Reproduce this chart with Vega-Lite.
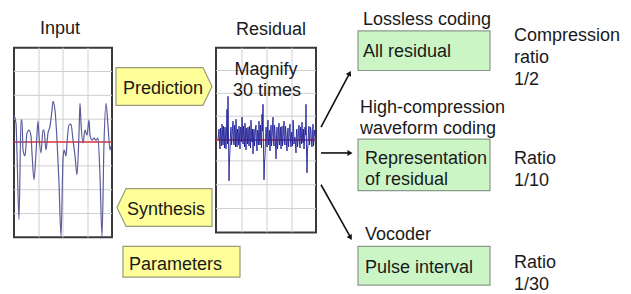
{
  "$schema": "https://vega.github.io/schema/vega-lite/v6.json",
  "width": 631,
  "height": 294,
  "padding": 0,
  "autosize": {"type": "fit", "contains": "padding"},
  "background": "white",
  "config": {"view": {"stroke": null}},
  "datasets": {
    "panels": [
      {"x": 14, "x2": 112, "y": 48, "y2": 239},
      {"x": 216, "x2": 316, "y": 48, "y2": 234}
    ],
    "grid": [
      {"x": 39, "x2": 39, "y": 48, "y2": 239},
      {"x": 63, "x2": 63, "y": 48, "y2": 239},
      {"x": 88, "x2": 88, "y": 48, "y2": 239},
      {"x": 14, "x2": 112, "y": 72, "y2": 72},
      {"x": 14, "x2": 112, "y": 96, "y2": 96},
      {"x": 14, "x2": 112, "y": 120, "y2": 120},
      {"x": 14, "x2": 112, "y": 167, "y2": 167},
      {"x": 14, "x2": 112, "y": 191, "y2": 191},
      {"x": 14, "x2": 112, "y": 215, "y2": 215},
      {"x": 242, "x2": 242, "y": 48, "y2": 234},
      {"x": 267, "x2": 267, "y": 48, "y2": 234},
      {"x": 292, "x2": 292, "y": 48, "y2": 234},
      {"x": 216, "x2": 316, "y": 71, "y2": 71},
      {"x": 216, "x2": 316, "y": 94, "y2": 94},
      {"x": 216, "x2": 316, "y": 117, "y2": 117},
      {"x": 216, "x2": 316, "y": 162, "y2": 162},
      {"x": 216, "x2": 316, "y": 186, "y2": 186},
      {"x": 216, "x2": 316, "y": 210, "y2": 210}
    ],
    "redlines": [
      {"x": 14, "x2": 112, "y": 143, "y2": 143},
      {"x": 216, "x2": 316, "y": 141, "y2": 141}
    ],
    "input": [
      {"x": 14, "y": 116}, {"x": 16, "y": 124}, {"x": 17, "y": 154}, {"x": 19, "y": 221},
      {"x": 21, "y": 121}, {"x": 22, "y": 121}, {"x": 23, "y": 151}, {"x": 25, "y": 157},
      {"x": 27, "y": 134}, {"x": 29, "y": 131}, {"x": 31, "y": 137}, {"x": 32, "y": 154},
      {"x": 34, "y": 181}, {"x": 36, "y": 154}, {"x": 38, "y": 122}, {"x": 39, "y": 137},
      {"x": 41, "y": 154}, {"x": 43, "y": 131}, {"x": 44, "y": 131}, {"x": 46, "y": 151},
      {"x": 48, "y": 134}, {"x": 50, "y": 127}, {"x": 52, "y": 111}, {"x": 53, "y": 102},
      {"x": 55, "y": 111}, {"x": 57, "y": 141}, {"x": 59, "y": 184}, {"x": 61, "y": 238},
      {"x": 63, "y": 161}, {"x": 64, "y": 151}, {"x": 66, "y": 157}, {"x": 67, "y": 144},
      {"x": 69, "y": 126}, {"x": 71, "y": 125}, {"x": 73, "y": 141}, {"x": 75, "y": 157},
      {"x": 77, "y": 176}, {"x": 79, "y": 134}, {"x": 80, "y": 104}, {"x": 81, "y": 124},
      {"x": 83, "y": 144}, {"x": 85, "y": 131}, {"x": 87, "y": 136}, {"x": 89, "y": 121},
      {"x": 90, "y": 136}, {"x": 92, "y": 141}, {"x": 94, "y": 139}, {"x": 96, "y": 141},
      {"x": 98, "y": 139}, {"x": 100, "y": 177}, {"x": 102, "y": 238}, {"x": 104, "y": 144},
      {"x": 106, "y": 104}, {"x": 108, "y": 127}, {"x": 110, "y": 151}, {"x": 111, "y": 147}
    ],
    "residual": [
      {"x": 218, "y": 141}, {"x": 218.5, "y": 135}, {"x": 219, "y": 130}, {"x": 219.5, "y": 144},
      {"x": 220, "y": 150}, {"x": 220.5, "y": 129}, {"x": 221, "y": 136}, {"x": 221.5, "y": 147},
      {"x": 222, "y": 125}, {"x": 222.5, "y": 133}, {"x": 223, "y": 146}, {"x": 223.5, "y": 127},
      {"x": 224, "y": 138}, {"x": 224.5, "y": 149}, {"x": 225, "y": 128}, {"x": 225.5, "y": 139},
      {"x": 226, "y": 150}, {"x": 226.5, "y": 131}, {"x": 227, "y": 110}, {"x": 227.5, "y": 145},
      {"x": 228, "y": 97}, {"x": 228.5, "y": 138}, {"x": 229, "y": 182}, {"x": 229.5, "y": 160},
      {"x": 230, "y": 150}, {"x": 230.5, "y": 134}, {"x": 231, "y": 128}, {"x": 231.5, "y": 146},
      {"x": 232, "y": 140}, {"x": 232.5, "y": 129}, {"x": 233, "y": 122}, {"x": 233.5, "y": 141},
      {"x": 234, "y": 146}, {"x": 234.5, "y": 126}, {"x": 235, "y": 132}, {"x": 235.5, "y": 148},
      {"x": 236, "y": 120}, {"x": 236.5, "y": 137}, {"x": 237, "y": 148}, {"x": 237.5, "y": 130},
      {"x": 238, "y": 135}, {"x": 238.5, "y": 146}, {"x": 239, "y": 127}, {"x": 239.5, "y": 138},
      {"x": 240, "y": 150}, {"x": 240.5, "y": 128}, {"x": 241, "y": 131}, {"x": 241.5, "y": 143},
      {"x": 242, "y": 118}, {"x": 242.5, "y": 132}, {"x": 243, "y": 145}, {"x": 243.5, "y": 127},
      {"x": 244, "y": 137}, {"x": 244.5, "y": 148}, {"x": 245, "y": 124}, {"x": 245.5, "y": 136},
      {"x": 246, "y": 151}, {"x": 246.5, "y": 129}, {"x": 247, "y": 133}, {"x": 247.5, "y": 145},
      {"x": 248, "y": 128}, {"x": 248.5, "y": 139}, {"x": 249, "y": 147}, {"x": 249.5, "y": 127},
      {"x": 250, "y": 136}, {"x": 250.5, "y": 149}, {"x": 251, "y": 121}, {"x": 251.5, "y": 134},
      {"x": 252, "y": 143}, {"x": 252.5, "y": 130}, {"x": 253, "y": 155}, {"x": 253.5, "y": 140},
      {"x": 254, "y": 130}, {"x": 254.5, "y": 147}, {"x": 255, "y": 139}, {"x": 255.5, "y": 128},
      {"x": 256, "y": 126}, {"x": 256.5, "y": 143}, {"x": 257, "y": 152}, {"x": 257.5, "y": 131},
      {"x": 258, "y": 134}, {"x": 258.5, "y": 146}, {"x": 259, "y": 122}, {"x": 259.5, "y": 137},
      {"x": 260, "y": 146}, {"x": 260.5, "y": 126}, {"x": 261, "y": 137}, {"x": 261.5, "y": 149},
      {"x": 262, "y": 115}, {"x": 262.5, "y": 132}, {"x": 263, "y": 105}, {"x": 263.5, "y": 150},
      {"x": 264, "y": 181}, {"x": 264.5, "y": 163}, {"x": 265, "y": 158}, {"x": 265.5, "y": 141},
      {"x": 266, "y": 128}, {"x": 266.5, "y": 135}, {"x": 267, "y": 148}, {"x": 267.5, "y": 129},
      {"x": 268, "y": 121}, {"x": 268.5, "y": 146}, {"x": 269, "y": 142}, {"x": 269.5, "y": 131},
      {"x": 270, "y": 152}, {"x": 270.5, "y": 138}, {"x": 271, "y": 126}, {"x": 271.5, "y": 147},
      {"x": 272, "y": 139}, {"x": 272.5, "y": 129}, {"x": 273, "y": 118}, {"x": 273.5, "y": 142},
      {"x": 274, "y": 147}, {"x": 274.5, "y": 126}, {"x": 275, "y": 133}, {"x": 275.5, "y": 145},
      {"x": 276, "y": 160}, {"x": 276.5, "y": 139}, {"x": 277, "y": 128}, {"x": 277.5, "y": 150},
      {"x": 278, "y": 144}, {"x": 278.5, "y": 131}, {"x": 279, "y": 124}, {"x": 279.5, "y": 146},
      {"x": 280, "y": 138}, {"x": 280.5, "y": 128}, {"x": 281, "y": 150}, {"x": 281.5, "y": 137},
      {"x": 282, "y": 127}, {"x": 282.5, "y": 147}, {"x": 283, "y": 141}, {"x": 283.5, "y": 130},
      {"x": 284, "y": 122}, {"x": 284.5, "y": 143}, {"x": 285, "y": 146}, {"x": 285.5, "y": 127},
      {"x": 286, "y": 134}, {"x": 286.5, "y": 145}, {"x": 287, "y": 152}, {"x": 287.5, "y": 135},
      {"x": 288, "y": 129}, {"x": 288.5, "y": 148}, {"x": 289, "y": 140}, {"x": 289.5, "y": 129},
      {"x": 290, "y": 125}, {"x": 290.5, "y": 141}, {"x": 291, "y": 148}, {"x": 291.5, "y": 133},
      {"x": 292, "y": 135}, {"x": 292.5, "y": 147}, {"x": 293, "y": 121}, {"x": 293.5, "y": 128},
      {"x": 294, "y": 145}, {"x": 294.5, "y": 139}, {"x": 295, "y": 138}, {"x": 295.5, "y": 146},
      {"x": 296, "y": 154}, {"x": 296.5, "y": 131}, {"x": 297, "y": 130}, {"x": 297.5, "y": 148},
      {"x": 298, "y": 142}, {"x": 298.5, "y": 134}, {"x": 299, "y": 126}, {"x": 299.5, "y": 143},
      {"x": 300, "y": 149}, {"x": 300.5, "y": 128}, {"x": 301, "y": 136}, {"x": 301.5, "y": 145},
      {"x": 302, "y": 123}, {"x": 302.5, "y": 138}, {"x": 303, "y": 144}, {"x": 303.5, "y": 130},
      {"x": 304, "y": 150}, {"x": 304.5, "y": 141}, {"x": 305, "y": 128}, {"x": 305.5, "y": 136},
      {"x": 306, "y": 105}, {"x": 306.5, "y": 148}, {"x": 307, "y": 174}, {"x": 307.5, "y": 150},
      {"x": 308, "y": 146}, {"x": 308.5, "y": 131}, {"x": 309, "y": 127}, {"x": 309.5, "y": 146},
      {"x": 310, "y": 140}, {"x": 310.5, "y": 128}, {"x": 311, "y": 132}, {"x": 311.5, "y": 144},
      {"x": 312, "y": 148}, {"x": 312.5, "y": 135}, {"x": 313, "y": 125}, {"x": 313.5, "y": 147},
      {"x": 314, "y": 141}, {"x": 314.5, "y": 131}, {"x": 315, "y": 137}
    ],
    "tags": [
      {"s": "Prediction", "y": 68, "x": 116, "x2": 203},
      {"s": "Prediction", "y": 87, "x": 116, "x2": 212},
      {"s": "Prediction", "y": 106, "x": 116, "x2": 203},
      {"s": "Synthesis", "y": 190, "x": 126, "x2": 212},
      {"s": "Synthesis", "y": 209, "x": 117, "x2": 212},
      {"s": "Synthesis", "y": 228, "x": 126, "x2": 212}
    ],
    "yellowboxes": [
      {"x": 123, "x2": 240, "y": 248, "y2": 279}
    ],
    "greenboxes": [
      {"x": 358, "x2": 490, "y": 31, "y2": 71},
      {"x": 358, "x2": 490, "y": 140, "y2": 192},
      {"x": 358, "x2": 490, "y": 248, "y2": 287}
    ],
    "arrows": [
      {"x": 321, "y": 128, "x2": 349, "y2": 75},
      {"x": 321, "y": 154, "x2": 349, "y2": 154},
      {"x": 321, "y": 186, "x2": 350, "y2": 238}
    ],
    "heads": [
      {"x": 349.6, "y": 73.7, "a": 28},
      {"x": 350, "y": 154, "a": 90},
      {"x": 350.5, "y": 239.4, "a": 151}
    ],
    "centertext": [
      {"t": "Input", "x": 60, "y": 34},
      {"t": "Residual", "x": 271, "y": 35},
      {"t": "Magnify", "x": 266, "y": 76},
      {"t": "30 times", "x": 267, "y": 97}
    ],
    "lefttext": [
      {"t": "Prediction", "x": 123, "y": 95},
      {"t": "Synthesis", "x": 127, "y": 216},
      {"t": "Parameters", "x": 129, "y": 272},
      {"t": "Lossless coding", "x": 363, "y": 25},
      {"t": "All residual", "x": 363, "y": 57},
      {"t": "High-compression", "x": 360, "y": 114},
      {"t": "waveform coding", "x": 360, "y": 135},
      {"t": "Representation", "x": 365, "y": 165},
      {"t": "of residual", "x": 365, "y": 186},
      {"t": "Vocoder", "x": 365, "y": 242},
      {"t": "Pulse interval", "x": 365, "y": 275},
      {"t": "Compression", "x": 514, "y": 41},
      {"t": "ratio", "x": 514, "y": 63},
      {"t": "1/2", "x": 514, "y": 86},
      {"t": "Ratio", "x": 514, "y": 165},
      {"t": "1/10", "x": 514, "y": 187},
      {"t": "Ratio", "x": 514, "y": 270},
      {"t": "1/30", "x": 514, "y": 292}
    ]
  },
  "encoding": {
    "x": {"field": "x", "type": "quantitative", "scale": {"domain": [0, 631], "nice": false, "zero": false}, "axis": null},
    "y": {"field": "y", "type": "quantitative", "scale": {"domain": [0, 294], "nice": false, "zero": false, "reverse": true}, "axis": null}
  },
  "layer": [
    {
      "data": {"name": "panels"},
      "mark": {"type": "rect", "fill": "white", "stroke": "#3a3a3a", "strokeWidth": 2},
      "encoding": {"x2": {"field": "x2"}, "y2": {"field": "y2"}}
    },
    {
      "data": {"name": "grid"},
      "mark": {"type": "rule", "color": "#cfcfcf", "strokeWidth": 1},
      "encoding": {"x2": {"field": "x2"}, "y2": {"field": "y2"}}
    },
    {
      "data": {"name": "redlines"},
      "mark": {"type": "rule", "color": "#e03030", "strokeWidth": 1.5},
      "encoding": {"x2": {"field": "x2"}, "y2": {"field": "y2"}}
    },
    {
      "data": {"name": "input"},
      "mark": {"type": "line", "color": "#5c5c9c", "strokeWidth": 1.2, "interpolate": "monotone"},
      "encoding": {}
    },
    {
      "data": {"name": "residual"},
      "mark": {"type": "line", "color": "#1f1f96", "strokeWidth": 0.9},
      "encoding": {}
    },
    {
      "data": {"name": "tags"},
      "mark": {"type": "area", "orient": "horizontal", "fill": "#ffff99", "fillOpacity": 1, "stroke": "#9a9a7a", "strokeWidth": 1.2},
      "encoding": {"x2": {"field": "x2"}, "detail": {"field": "s"}}
    },
    {
      "data": {"name": "yellowboxes"},
      "mark": {"type": "rect", "fill": "#ffff99", "stroke": "#9a9a7a", "strokeWidth": 1.2},
      "encoding": {"x2": {"field": "x2"}, "y2": {"field": "y2"}}
    },
    {
      "data": {"name": "greenboxes"},
      "mark": {"type": "rect", "fill": "#ccf5c6", "stroke": "#8a9a8a", "strokeWidth": 1.2},
      "encoding": {"x2": {"field": "x2"}, "y2": {"field": "y2"}}
    },
    {
      "data": {"name": "arrows"},
      "mark": {"type": "rule", "color": "#111111", "strokeWidth": 1.6},
      "encoding": {"x2": {"field": "x2"}, "y2": {"field": "y2"}}
    },
    {
      "data": {"name": "heads"},
      "mark": {"type": "point", "shape": "triangle-up", "filled": true, "color": "#111111", "opacity": 1, "size": 35},
      "encoding": {"angle": {"field": "a", "type": "quantitative", "scale": null}}
    },
    {
      "data": {"name": "centertext"},
      "mark": {"type": "text", "align": "center", "baseline": "alphabetic", "font": "Liberation Sans", "fontSize": 18, "color": "#1a1a1a"},
      "encoding": {"text": {"field": "t"}}
    },
    {
      "data": {"name": "lefttext"},
      "mark": {"type": "text", "align": "left", "baseline": "alphabetic", "font": "Liberation Sans", "fontSize": 18, "color": "#1a1a1a"},
      "encoding": {"text": {"field": "t"}}
    }
  ]
}
